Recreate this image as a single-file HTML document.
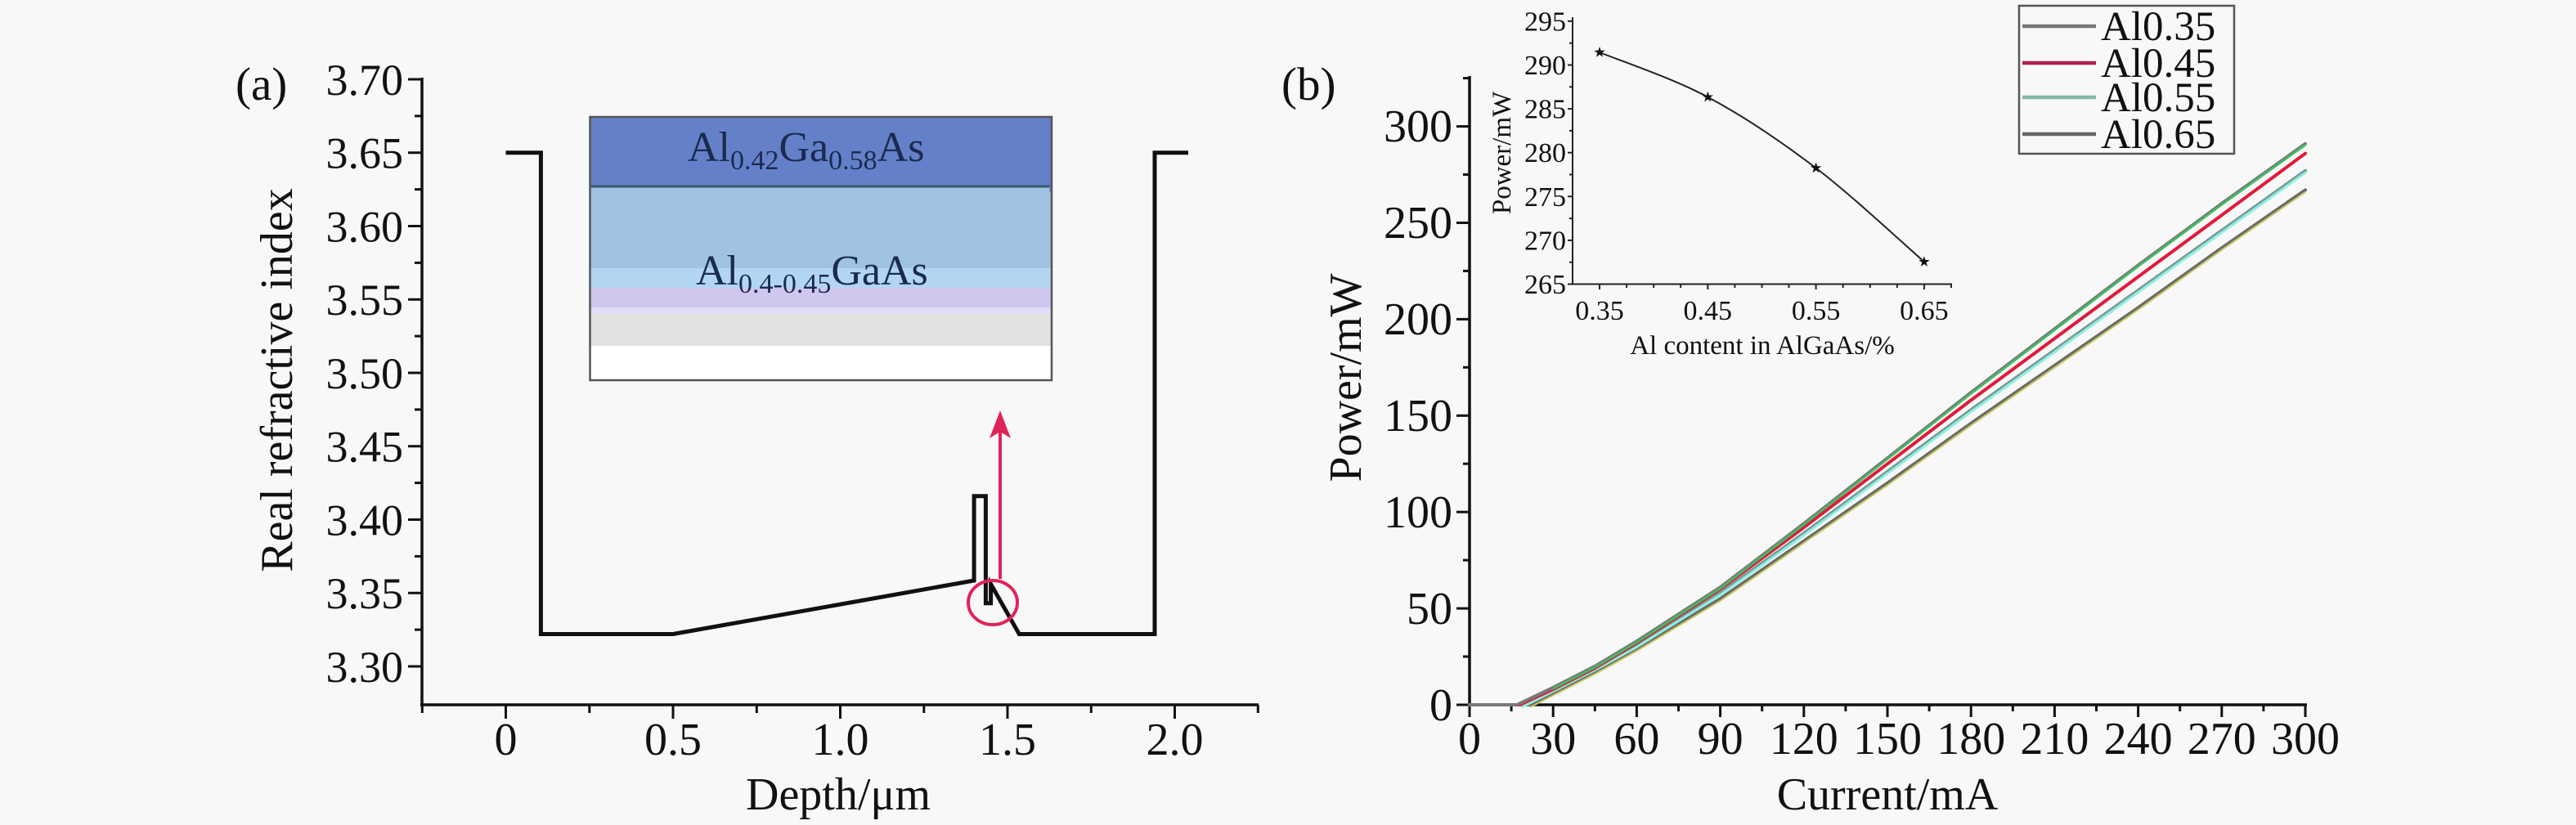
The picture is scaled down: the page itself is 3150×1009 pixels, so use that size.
<!DOCTYPE html>
<html>
<head>
<meta charset="utf-8">
<style>
html,body{margin:0;padding:0;background:#f8f8f8;}
svg{display:block;}
svg text, svg tspan{font-family:"Liberation Serif","DejaVu Serif",serif !important;}
text{fill:#111;}
</style>
</head>
<body>
<svg width="3150" height="1009" viewBox="0 0 3150 1009" xmlns="http://www.w3.org/2000/svg" font-family="'Liberation Serif', 'DejaVu Serif', serif">
<rect x="0" y="0" width="3150" height="1009" fill="#f8f8f8"/>

<!-- ================= Panel (a) ================= -->
<text x="288" y="122" font-size="57">(a)</text>

<g stroke="#111" stroke-width="3.5" fill="none">
  <line x1="516" y1="95" x2="516" y2="864"/>
  <line x1="514" y1="862" x2="1539" y2="862"/>
</g>
<g stroke="#111" stroke-width="3">
  <line x1="499" y1="97" x2="516" y2="97"/>
  <line x1="499" y1="186.75" x2="516" y2="186.75"/>
  <line x1="499" y1="276.5" x2="516" y2="276.5"/>
  <line x1="499" y1="366.25" x2="516" y2="366.25"/>
  <line x1="499" y1="456" x2="516" y2="456"/>
  <line x1="499" y1="545.75" x2="516" y2="545.75"/>
  <line x1="499" y1="635.5" x2="516" y2="635.5"/>
  <line x1="499" y1="725.25" x2="516" y2="725.25"/>
  <line x1="499" y1="815" x2="516" y2="815"/>
  <line x1="507" y1="141.9" x2="516" y2="141.9"/>
  <line x1="507" y1="231.6" x2="516" y2="231.6"/>
  <line x1="507" y1="321.4" x2="516" y2="321.4"/>
  <line x1="507" y1="411.1" x2="516" y2="411.1"/>
  <line x1="507" y1="500.9" x2="516" y2="500.9"/>
  <line x1="507" y1="590.6" x2="516" y2="590.6"/>
  <line x1="507" y1="680.4" x2="516" y2="680.4"/>
  <line x1="507" y1="770.1" x2="516" y2="770.1"/>
</g>
<g stroke="#111" stroke-width="3">
  <line x1="618.5" y1="862" x2="618.5" y2="879"/>
  <line x1="823" y1="862" x2="823" y2="879"/>
  <line x1="1027.5" y1="862" x2="1027.5" y2="879"/>
  <line x1="1232" y1="862" x2="1232" y2="879"/>
  <line x1="1436.5" y1="862" x2="1436.5" y2="879"/>
  <line x1="516.3" y1="862" x2="516.3" y2="872"/>
  <line x1="720.8" y1="862" x2="720.8" y2="872"/>
  <line x1="925.3" y1="862" x2="925.3" y2="872"/>
  <line x1="1129.8" y1="862" x2="1129.8" y2="872"/>
  <line x1="1334.3" y1="862" x2="1334.3" y2="872"/>
  <line x1="1538.3" y1="862" x2="1538.3" y2="872"/>
</g>
<g font-size="54" text-anchor="end">
  <text x="493" y="116">3.70</text>
  <text x="493" y="205.5">3.65</text>
  <text x="493" y="295.3">3.60</text>
  <text x="493" y="385">3.55</text>
  <text x="493" y="474.8">3.50</text>
  <text x="493" y="564.5">3.45</text>
  <text x="493" y="654.3">3.40</text>
  <text x="493" y="744">3.35</text>
  <text x="493" y="833.8">3.30</text>
</g>
<g font-size="56" text-anchor="middle">
  <text x="618.5" y="923">0</text>
  <text x="823" y="923">0.5</text>
  <text x="1027.5" y="923">1.0</text>
  <text x="1232" y="923">1.5</text>
  <text x="1436.5" y="923">2.0</text>
</g>
<text x="1025" y="990" font-size="56" text-anchor="middle">Depth/μm</text>
<text transform="translate(357,465) rotate(-90)" font-size="56" text-anchor="middle">Real refractive index</text>

<!-- inset (a) layer structure -->
<g>
  <rect x="721.5" y="143" width="564.5" height="322" fill="#ffffff"/>
  <rect x="721.5" y="143" width="564.5" height="85" fill="#6480c8"/>
  <rect x="721.5" y="228" width="564.5" height="100" fill="#9fc3e0"/>
  <rect x="721.5" y="328" width="564.5" height="24" fill="#b2d6f2"/>
  <rect x="721.5" y="352" width="564.5" height="24" fill="#cfc7ee"/>
  <rect x="721.5" y="376" width="564.5" height="8" fill="#e2dcf6"/>
  <rect x="721.5" y="384" width="564.5" height="39" fill="#e2e2e2"/>
  <line x1="721.5" y1="228" x2="1286" y2="228" stroke="#3a5a70" stroke-width="3"/>
  <line x1="1285" y1="145" x2="1285" y2="235" stroke="#8070d0" stroke-width="3"/>
  <rect x="721.5" y="143" width="564.5" height="322" fill="none" stroke="#555" stroke-width="2.5"/>
</g>
<text x="841" y="197" font-size="52" style="fill:#1a2a50">Al<tspan font-size="34" dy="10">0.42</tspan><tspan dy="-10">Ga</tspan><tspan font-size="34" dy="10">0.58</tspan><tspan dy="-10">As</tspan></text>
<text x="851" y="348" font-size="52" style="fill:#1a2a50">Al<tspan font-size="34" dy="10">0.4-0.45</tspan><tspan dy="-10">GaAs</tspan></text>

<polyline fill="none" stroke="#111" stroke-width="5" stroke-linejoin="miter"
  points="618.5,186.75 661.4,186.75 661.4,775.5 823,775.5 1191.1,710 1191.1,606.8 1205.4,606.8 1205.4,737.8 1211.6,737.8 1211.6,714.4 1246.3,775.5 1412,775.5 1412,186.75 1453,186.75"/>

<line x1="1223" y1="708" x2="1223" y2="528" stroke="#e0245a" stroke-width="4"/>
<polygon points="1223,502 1210,536 1223,528 1236,536" fill="#e0245a"/>
<ellipse cx="1214" cy="737" rx="30" ry="27" fill="none" stroke="#e0245a" stroke-width="4"/>

<!-- ================= Panel (b) ================= -->
<text x="1567" y="122" font-size="57">(b)</text>

<g stroke="#111" stroke-width="3.5" fill="none">
  <line x1="1797" y1="93" x2="1797" y2="864"/>
  <line x1="1795" y1="862" x2="2821" y2="862"/>
</g>
<g stroke="#111" stroke-width="3">
  <line x1="1781" y1="862" x2="1797" y2="862"/>
  <line x1="1781" y1="744.1" x2="1797" y2="744.1"/>
  <line x1="1781" y1="626.2" x2="1797" y2="626.2"/>
  <line x1="1781" y1="508.3" x2="1797" y2="508.3"/>
  <line x1="1781" y1="390.4" x2="1797" y2="390.4"/>
  <line x1="1781" y1="272.5" x2="1797" y2="272.5"/>
  <line x1="1781" y1="154.6" x2="1797" y2="154.6"/>
  <line x1="1789" y1="803" x2="1797" y2="803"/>
  <line x1="1789" y1="685.1" x2="1797" y2="685.1"/>
  <line x1="1789" y1="567.2" x2="1797" y2="567.2"/>
  <line x1="1789" y1="449.3" x2="1797" y2="449.3"/>
  <line x1="1789" y1="331.4" x2="1797" y2="331.4"/>
  <line x1="1789" y1="213.5" x2="1797" y2="213.5"/>
  <line x1="1789" y1="95.6" x2="1797" y2="95.6"/>
</g>
<g stroke="#111" stroke-width="3">
  <line x1="1797" y1="862" x2="1797" y2="877"/>
  <line x1="1899.2" y1="862" x2="1899.2" y2="877"/>
  <line x1="2001.4" y1="862" x2="2001.4" y2="877"/>
  <line x1="2103.6" y1="862" x2="2103.6" y2="877"/>
  <line x1="2205.8" y1="862" x2="2205.8" y2="877"/>
  <line x1="2308" y1="862" x2="2308" y2="877"/>
  <line x1="2410.2" y1="862" x2="2410.2" y2="877"/>
  <line x1="2512.4" y1="862" x2="2512.4" y2="877"/>
  <line x1="2614.6" y1="862" x2="2614.6" y2="877"/>
  <line x1="2716.8" y1="862" x2="2716.8" y2="877"/>
  <line x1="2819" y1="862" x2="2819" y2="877"/>
  <line x1="1848.1" y1="862" x2="1848.1" y2="870"/>
  <line x1="1950.3" y1="862" x2="1950.3" y2="870"/>
  <line x1="2052.5" y1="862" x2="2052.5" y2="870"/>
  <line x1="2154.7" y1="862" x2="2154.7" y2="870"/>
  <line x1="2256.9" y1="862" x2="2256.9" y2="870"/>
  <line x1="2359.1" y1="862" x2="2359.1" y2="870"/>
  <line x1="2461.3" y1="862" x2="2461.3" y2="870"/>
  <line x1="2563.5" y1="862" x2="2563.5" y2="870"/>
  <line x1="2665.7" y1="862" x2="2665.7" y2="870"/>
  <line x1="2767.9" y1="862" x2="2767.9" y2="870"/>
</g>
<g font-size="56" text-anchor="end">
  <text x="1776" y="881">0</text>
  <text x="1776" y="763">50</text>
  <text x="1776" y="645">100</text>
  <text x="1776" y="527">150</text>
  <text x="1776" y="409">200</text>
  <text x="1776" y="291">250</text>
  <text x="1776" y="173">300</text>
</g>
<g font-size="56" text-anchor="middle">
  <text x="1797" y="922">0</text>
  <text x="1899.2" y="922">30</text>
  <text x="2001.4" y="922">60</text>
  <text x="2103.6" y="922">90</text>
  <text x="2205.8" y="922">120</text>
  <text x="2308" y="922">150</text>
  <text x="2410.2" y="922">180</text>
  <text x="2512.4" y="922">210</text>
  <text x="2614.6" y="922">240</text>
  <text x="2716.8" y="922">270</text>
  <text x="2819" y="922">300</text>
</g>
<text x="2308" y="990" font-size="56" text-anchor="middle">Current/mA</text>
<text transform="translate(1664,462) rotate(-90)" font-size="56" text-anchor="middle">Power/mW</text>

<g fill="none" stroke-linejoin="round" stroke-linecap="round">
  <polyline stroke="#6a6a6a" stroke-width="4" points="1797,862 1872,862 1899.2,847.9 1950.3,821.9 2001.4,793.6 2103.6,732.3 2205.8,661.6 2308,590.8 2410.2,517.7 2512.4,447 2614.6,376.3 2716.8,303.2 2819,232.4"/>
  <polyline stroke="#c8c860" stroke-width="2" transform="translate(0,2.5)" points="1872,862 1899.2,847.9 1950.3,821.9 2001.4,793.6 2103.6,732.3 2205.8,661.6 2308,590.8 2410.2,517.7 2512.4,447 2614.6,376.3 2716.8,303.2 2819,232.4"/>
  <polyline stroke="#7a9a96" stroke-width="4" points="1797,862 1861.7,862 1899.2,843.1 1950.3,817.2 2001.4,788.9 2103.6,725.2 2205.8,652.1 2308,576.7 2410.2,501.2 2512.4,428.1 2614.6,355 2716.8,281.9 2819,208.8"/>
  <polyline stroke="#8ef0e2" stroke-width="3" transform="translate(0,2.5)" points="1861.7,862 1899.2,843.1 1950.3,817.2 2001.4,788.9 2103.6,725.2 2205.8,652.1 2308,576.7 2410.2,501.2 2512.4,428.1 2614.6,355 2716.8,281.9 2819,208.8"/>
  <polyline stroke="#e01a3c" stroke-width="4" points="1797,862 1858.3,862 1899.2,843.1 1950.3,817.2 2001.4,786.5 2103.6,720.5 2205.8,645.1 2308,567.3 2410.2,489.4 2512.4,414 2614.6,338.5 2716.8,263.1 2819,187.6"/>
  <polyline stroke="#7a7a7a" stroke-width="4" points="1797,862 1854.9,862 1899.2,840.8 1950.3,814.8 2001.4,784.2 2103.6,718.2 2205.8,640.3 2308,560.2 2410.2,480 2512.4,402.2 2614.6,324.4 2716.8,248.9 2819,175.8"/>
  <polyline stroke="#3cc060" stroke-width="2.5" transform="translate(0,1.5)" points="1899.2,840.8 1950.3,814.8 2001.4,784.2 2103.6,718.2 2205.8,640.3 2308,560.2 2410.2,480 2512.4,402.2 2614.6,324.4 2716.8,248.9 2819,175.8"/>
</g>

<rect x="2469" y="7" width="263" height="181" fill="#f8f8f8" stroke="#555" stroke-width="2.5"/>
<g stroke-width="4.5">
  <line x1="2473" y1="32" x2="2563" y2="32" stroke="#777"/>
  <line x1="2473" y1="77" x2="2563" y2="77" stroke="#b02050"/>
  <line x1="2473" y1="119" x2="2563" y2="119" stroke="#80b8a8"/>
  <line x1="2473" y1="164" x2="2563" y2="164" stroke="#666"/>
</g>
<g font-size="51">
  <text x="2569" y="49">Al0.35</text>
  <text x="2569" y="94">Al0.45</text>
  <text x="2569" y="136">Al0.55</text>
  <text x="2569" y="181">Al0.65</text>
</g>

<!-- inset (b) -->
<g stroke="#222" stroke-width="2" fill="none">
  <line x1="1923" y1="21" x2="1923" y2="348.5"/>
  <line x1="1922" y1="347.5" x2="2387" y2="347.5"/>
</g>
<g stroke="#222" stroke-width="2">
  <line x1="1917" y1="347.5" x2="1923" y2="347.5"/>
  <line x1="1917" y1="293.9" x2="1923" y2="293.9"/>
  <line x1="1917" y1="240.3" x2="1923" y2="240.3"/>
  <line x1="1917" y1="186.7" x2="1923" y2="186.7"/>
  <line x1="1917" y1="133.1" x2="1923" y2="133.1"/>
  <line x1="1917" y1="79.5" x2="1923" y2="79.5"/>
  <line x1="1917" y1="25.9" x2="1923" y2="25.9"/>
  <line x1="1919" y1="320.7" x2="1923" y2="320.7"/>
  <line x1="1919" y1="267.1" x2="1923" y2="267.1"/>
  <line x1="1919" y1="213.5" x2="1923" y2="213.5"/>
  <line x1="1919" y1="159.9" x2="1923" y2="159.9"/>
  <line x1="1919" y1="106.3" x2="1923" y2="106.3"/>
  <line x1="1919" y1="52.7" x2="1923" y2="52.7"/>
  <line x1="1956" y1="347.5" x2="1956" y2="354"/>
  <line x1="2088.3" y1="347.5" x2="2088.3" y2="354"/>
  <line x1="2220.6" y1="347.5" x2="2220.6" y2="354"/>
  <line x1="2352.9" y1="347.5" x2="2352.9" y2="354"/>
  <line x1="1989.1" y1="347.5" x2="1989.1" y2="352"/>
  <line x1="2022.2" y1="347.5" x2="2022.2" y2="352"/>
  <line x1="2055.2" y1="347.5" x2="2055.2" y2="352"/>
  <line x1="2121.4" y1="347.5" x2="2121.4" y2="352"/>
  <line x1="2154.5" y1="347.5" x2="2154.5" y2="352"/>
  <line x1="2187.5" y1="347.5" x2="2187.5" y2="352"/>
  <line x1="2253.7" y1="347.5" x2="2253.7" y2="352"/>
  <line x1="2286.8" y1="347.5" x2="2286.8" y2="352"/>
  <line x1="2319.8" y1="347.5" x2="2319.8" y2="352"/>
  <line x1="2386" y1="347.5" x2="2386" y2="352"/>
</g>
<g font-size="34" text-anchor="end">
  <text x="1915" y="359">265</text>
  <text x="1915" y="305.5">270</text>
  <text x="1915" y="252">275</text>
  <text x="1915" y="198">280</text>
  <text x="1915" y="144.5">285</text>
  <text x="1915" y="91">290</text>
  <text x="1915" y="37.5">295</text>
</g>
<g font-size="34" text-anchor="middle">
  <text x="1956" y="391">0.35</text>
  <text x="2088.3" y="391">0.45</text>
  <text x="2220.6" y="391">0.55</text>
  <text x="2352.9" y="391">0.65</text>
</g>
<text x="2155" y="433" font-size="33" text-anchor="middle">Al content in AlGaAs/%</text>
<text transform="translate(1847,187) rotate(-90)" font-size="33" text-anchor="middle">Power/mW</text>
<path d="M1956,64 C1978,73.1 2044.2,95.1 2088.3,118.7 C2132.4,142.3 2176.5,171.9 2220.6,205.5 C2264.7,239.1 2330.9,301.1 2352.9,320.2" fill="none" stroke="#222" stroke-width="2"/>
<g fill="#111">
  <polygon transform="translate(1956,64)" points="0,-7 1.6,-2.2 6.7,-2.2 2.6,0.8 4.1,5.7 0,2.7 -4.1,5.7 -2.6,0.8 -6.7,-2.2 -1.6,-2.2"/>
  <polygon transform="translate(2088.3,118.7)" points="0,-7 1.6,-2.2 6.7,-2.2 2.6,0.8 4.1,5.7 0,2.7 -4.1,5.7 -2.6,0.8 -6.7,-2.2 -1.6,-2.2"/>
  <polygon transform="translate(2220.6,205.5)" points="0,-7 1.6,-2.2 6.7,-2.2 2.6,0.8 4.1,5.7 0,2.7 -4.1,5.7 -2.6,0.8 -6.7,-2.2 -1.6,-2.2"/>
  <polygon transform="translate(2352.9,320.2)" points="0,-7 1.6,-2.2 6.7,-2.2 2.6,0.8 4.1,5.7 0,2.7 -4.1,5.7 -2.6,0.8 -6.7,-2.2 -1.6,-2.2"/>
</g>
</svg>
</body>
</html>
